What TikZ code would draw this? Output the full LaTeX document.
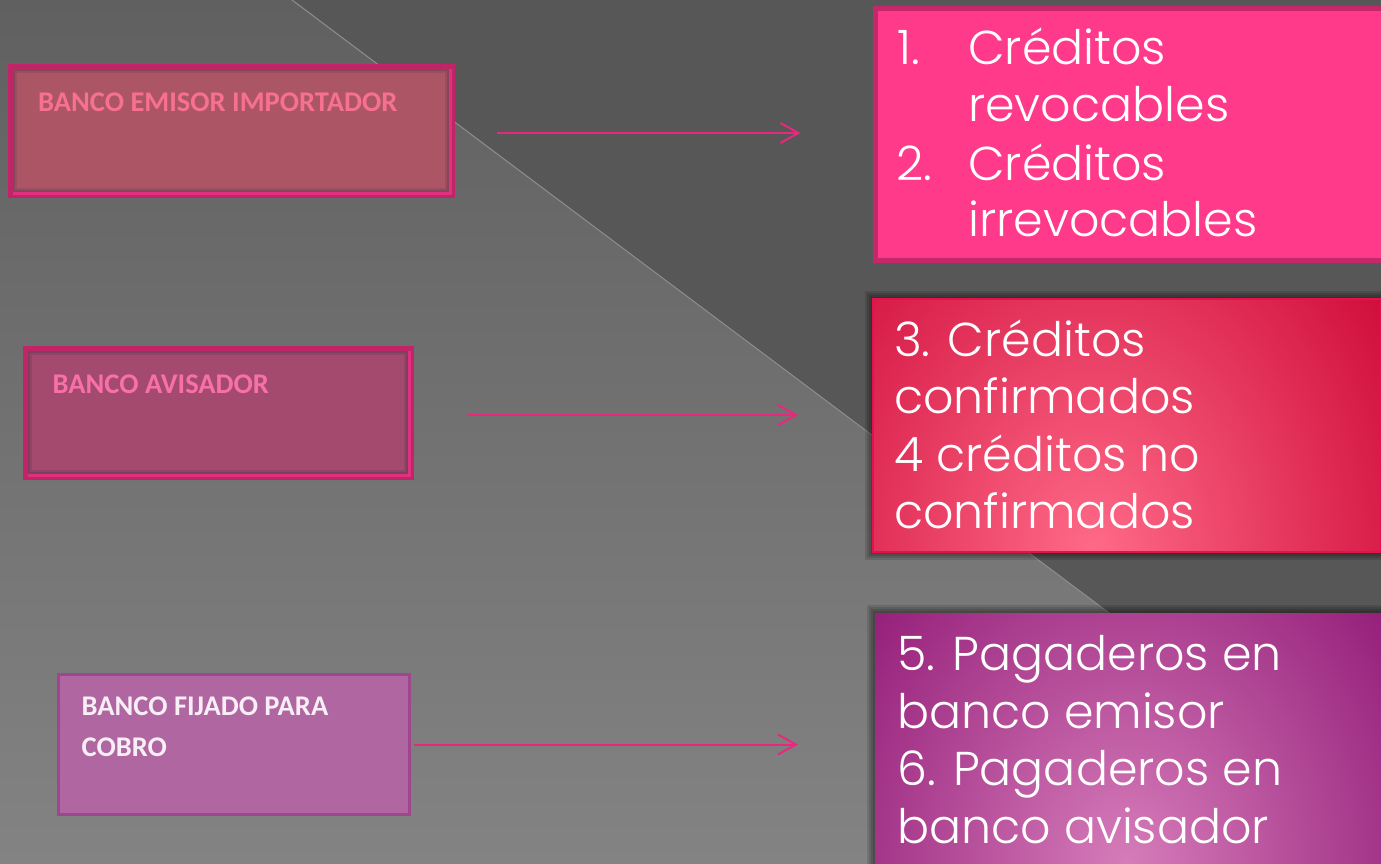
\documentclass[tikz,border=0pt]{standalone}
\usepackage{fontspec}
\setmainfont{Poppins}[UprightFont=* Light]
\newfontfamily\calib{Carlito}
\usetikzlibrary{arrows.meta}
\definecolor{bgdark}{HTML}{575757}
\definecolor{bgtop}{HTML}{606060}
\definecolor{bgbot}{HTML}{838383}
\definecolor{diag}{HTML}{8E8E8E}
\definecolor{magb}{HTML}{C22468}
\definecolor{maghi}{HTML}{E2307E}
\definecolor{aone}{HTML}{AC5565}
\definecolor{aoneframe}{HTML}{84475A}
\definecolor{aonemid}{HTML}{9A4E60}
\definecolor{aonetxt}{HTML}{F8708F}
\definecolor{atwo}{HTML}{A34A6E}
\definecolor{atwoframe}{HTML}{7E3E5E}
\definecolor{atwomid}{HTML}{924466}
\definecolor{atwotxt}{HTML}{F870A8}
\definecolor{athree}{HTML}{B066A0}
\definecolor{athreeb}{HTML}{A0468E}
\definecolor{athreetxt}{HTML}{F8EEF6}
\definecolor{arrowc}{HTML}{E8287C}
\definecolor{rone}{HTML}{FF3A8A}
\definecolor{roneb}{HTML}{C4286A}
\definecolor{rlight}{HTML}{FF6A88}
\definecolor{rdark}{HTML}{CC0636}
\definecolor{rtwob}{HTML}{E8104C}
\definecolor{plight}{HTML}{D67CBA}
\definecolor{pdark}{HTML}{870C6C}
\tikzset{
  box/.style={rectangle, inner sep=0pt, outer sep=0pt},
  smalltxt/.style={font=\calib\bfseries\fontsize{28.5}{34}\selectfont, inner sep=0pt, anchor=base west},
  bigtxt/.style={font=\fontsize{47.5}{57}\selectfont, text=white, inner sep=0pt, anchor=base west},
  conn/.style={draw=arrowc, line width=2pt, -{Straight Barb[length=18pt,width=20pt,line width=2pt]}},
  shadowlayer/.style={fill=black, fill opacity=0.12}
}
\begin{document}
\begin{tikzpicture}[x=1pt,y=-1pt]
\useasboundingbox (0,0) rectangle (1381,864);
\clip (0,0) rectangle (1381,864);
% background
\fill[bgdark] (0,0) rectangle (1381,864);
\shade[top color=bgtop, bottom color=bgbot] (0,0) -- (292,0) -- (1381,817) -- (1381,864) -- (0,864) -- cycle;
\draw[diag, line width=1pt] (292,0) -- (1381,817);

% left boxes
\node[box, fill=magb, minimum width=447pt, minimum height=134pt] (b1) at (231.5,131) {};
\fill[maghi] ([shift={(5,5)}]b1.north west) rectangle ([shift={(-3,-3)}]b1.south east);
\fill[aoneframe] ([shift={(5,5)}]b1.north west) rectangle ([shift={(-6,-6)}]b1.south east);
\fill[aonemid] ([shift={(7,7)}]b1.north west) rectangle ([shift={(-8,-8)}]b1.south east);
\fill[aone] ([shift={(9,9)}]b1.north west) rectangle ([shift={(-10,-10)}]b1.south east);
\node[smalltxt, text=aonetxt] (b1t) at (38,111.5) {BANCO EMISOR IMPORTADOR};

\node[box, fill=magb, minimum width=391pt, minimum height=134pt] (b2) at (218.5,413) {};
\fill[maghi] ([shift={(5,5)}]b2.north west) rectangle ([shift={(-3,-3)}]b2.south east);
\fill[atwoframe] ([shift={(5,5)}]b2.north west) rectangle ([shift={(-6,-6)}]b2.south east);
\fill[atwomid] ([shift={(7,7)}]b2.north west) rectangle ([shift={(-8,-8)}]b2.south east);
\fill[atwo] ([shift={(9,9)}]b2.north west) rectangle ([shift={(-10,-10)}]b2.south east);
\node[smalltxt, text=atwotxt] (b2t) at (52.5,393) {BANCO AVISADOR};

\node[box, fill=athree, draw=athreeb, line width=3pt, minimum width=351pt, minimum height=140pt] (b3) at (234,744.5) {};
\node[smalltxt, text=athreetxt] (b3t) at (81.5,715) {BANCO FIJADO PARA};
\node[smalltxt, text=athreetxt] (b3u) at (81.5,756.5) {COBRO};

% right boxes
\node[box, fill=rone, draw=roneb, line width=5pt, minimum width=520pt, minimum height=252pt] (r1) at (1135.5,134.5) {};

\foreach \s in {2,4,6,8} {\fill[shadowlayer] (873-\s,299-\s) rectangle (1390,552+\s);}
\node[box, minimum width=508pt, minimum height=253pt] (r2) at (1127,425.5) {};
\begin{scope}
  \clip (r2.north west) rectangle (r2.south east);
  \fill[rdark] (r2.north west) rectangle (r2.south east);
  \shade[inner color=rlight, outer color=rdark] (1093,553) ellipse (380pt and 480pt);
\end{scope}
\draw[rtwob, line width=1.5pt] (r2.north west) rectangle (r2.south east);

\foreach \s in {2,4,6,8} {\fill[shadowlayer] (875-\s,613-\s) rectangle (1390,870);}
\node[box, minimum width=506pt, minimum height=251pt] (r3) at (1128,738.5) {};
\begin{scope}
  \clip (r3.north west) rectangle (r3.south east);
  \fill[pdark] (r3.north west) rectangle (r3.south east);
  \shade[inner color=plight, outer color=pdark] (1127,863) ellipse (400pt and 480pt);
\end{scope}

% right texts
\node[bigtxt] (t1a) at (897,65) {1.};
\node[bigtxt] (t1b) at (968,65) {Créditos};
\node[bigtxt] (t1c) at (968,121.7) {revocables};
\node[bigtxt] (t1d) at (896,180) {2.};
\node[bigtxt] (t1e) at (968,180) {Créditos};
\node[bigtxt] (t1f) at (968,236.7) {irrevocables};

\node[bigtxt] (t2a) at (894,356.7) {3. Créditos};
\node[bigtxt] (t2b) at (894,413.3) {confirmados};
\node[bigtxt] (t2c) at (894,471.7) {4 créditos no};
\node[bigtxt] (t2d) at (894,528.3) {confirmados};

\node[bigtxt] (t3a) at (897,670) {5. Pagaderos en};
\node[bigtxt] (t3b) at (897,728.3) {banco emisor};
\node[bigtxt] (t3c) at (897,785) {6. Pagaderos en};
\node[bigtxt] (t3d) at (897,843.3) {banco avisador};

% connectors
\draw[conn, shorten <=42pt, shorten >=75pt] ([yshift=-2pt]b1.east) -- ([yshift=-2pt]b1.east -| r1.west);
\draw[conn, shorten <=54pt, shorten >=75pt] ([yshift=-2pt]b2.east) -- ([yshift=-2pt]b2.east -| r2.west);
\draw[conn, shorten <=4pt, shorten >=77pt] (b3.east) -- (b3.east -| r3.west);
\end{tikzpicture}
\end{document}
